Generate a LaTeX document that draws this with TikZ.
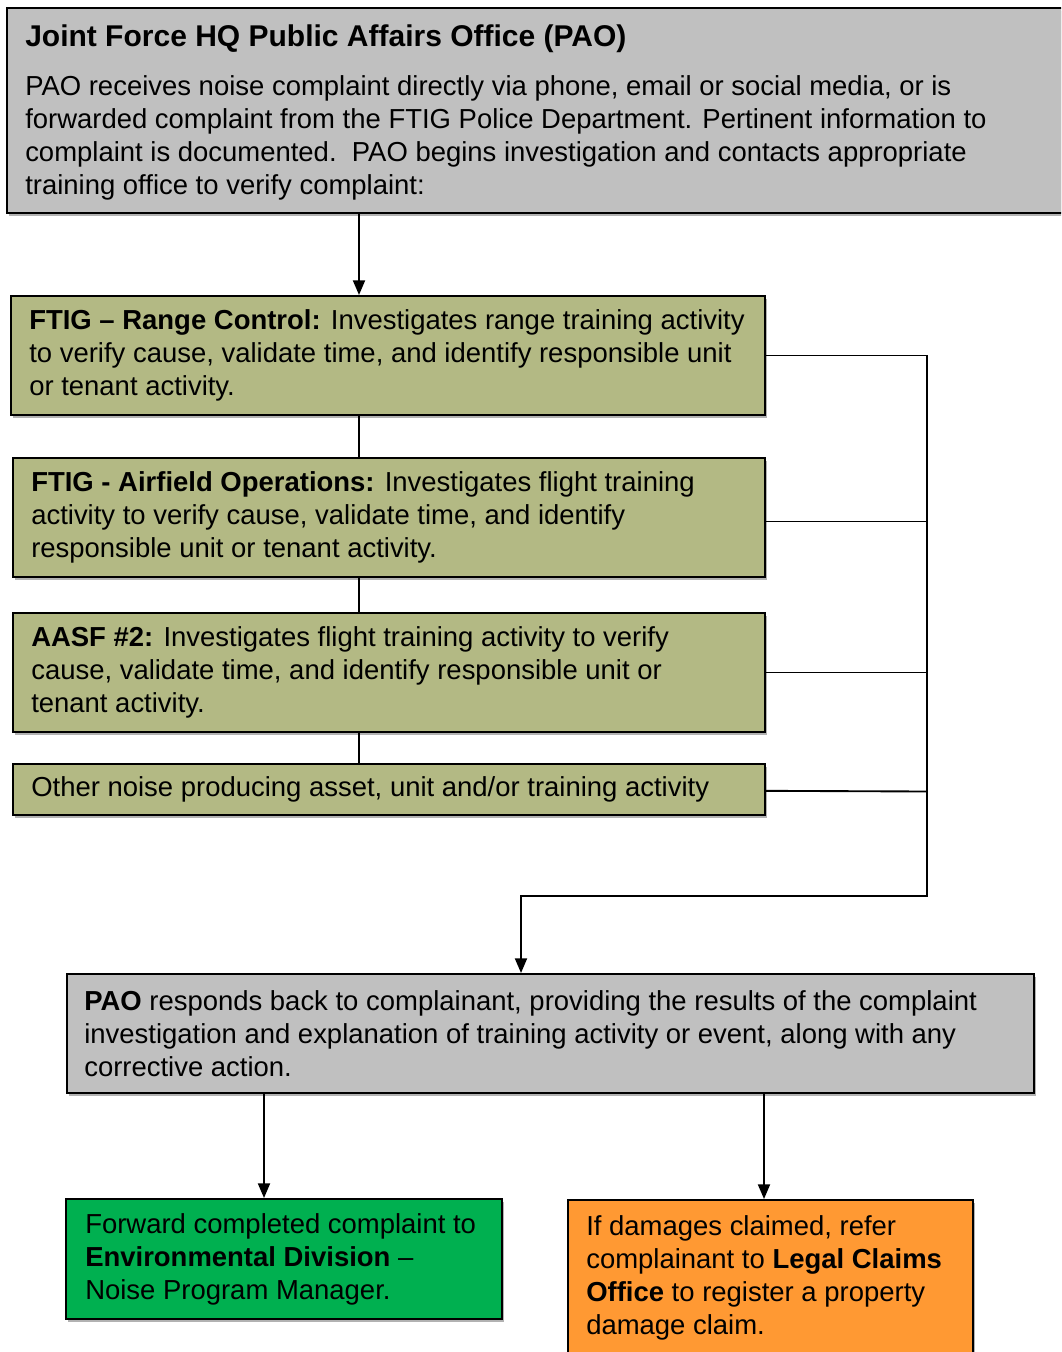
\documentclass[tikz,border=0pt]{standalone}
\usepackage{fontspec}
\setmainfont{Liberation Sans}
\usetikzlibrary{shadows,arrows.meta}
\definecolor{boxgray}{HTML}{C0C0C0}
\definecolor{olive}{HTML}{B3B984}
\definecolor{boxgreen}{HTML}{00B050}
\definecolor{boxorange}{HTML}{FF9933}
\newcommand{\mainsize}{\fontsize{20.6pt}{24.75pt}\selectfont}
\newcommand{\titlesize}{\fontsize{22.5pt}{24.75pt}\selectfont}
\begin{document}
\begin{tikzpicture}[x=0.75pt,y=-0.75pt,
  box/.style={draw=black, line width=1.5pt, rectangle, anchor=north west, inner sep=0pt,
    drop shadow={shadow xshift=1.5pt, shadow yshift=-2.5pt, opacity=0.3, fill=black}},
  lbl/.style={anchor=west, align=left, inner sep=0pt, font=\mainsize},
  conn/.style={draw=black, line width=1.4pt},
  arr/.style={conn, -{Triangle[length=11pt,width=9pt]}}]
\useasboundingbox (0,0) rectangle (1061,1352);
\clip (0,0) rectangle (1061,1352);

% boxes
\node[box, fill=boxgray, minimum width=801.75pt, minimum height=153.75pt] (top) at (6,7) {};
\node[box, fill=olive, minimum width=565.5pt, minimum height=89.25pt] (b1) at (10,295) {};
\node[box, fill=olive, minimum width=564pt, minimum height=89.25pt] (b2) at (12,457) {};
\node[box, fill=olive, minimum width=564pt, minimum height=89.25pt] (b3) at (12,612) {};
\node[box, fill=olive, minimum width=564pt, minimum height=38.25pt] (b4) at (12,763) {};
\node[box, fill=boxgray, minimum width=725.25pt, minimum height=89.25pt] (resp) at (66,973) {};
\node[box, fill=boxgreen, minimum width=327pt, minimum height=90pt] (green) at (65,1198) {};
\node[box, fill=boxorange, minimum width=303.75pt, minimum height=116.25pt] (orange) at (567,1199) {};

% labels
\node[lbl] (ttop) at ([xshift=14.25pt,yshift=-1.5pt]top.west) {{\titlesize\textbf{Joint Force HQ Public Affairs Office (PAO)}}\\[12pt]
PAO receives noise complaint directly via phone, email or social media, or is\\
forwarded complaint from the FTIG Police Department. Pertinent information to\\
complaint is documented.\ \ PAO begins investigation and contacts appropriate\\
training office to verify complaint:};
\node[lbl] (t1) at ([xshift=14.25pt]b1.west) {\textbf{FTIG -- Range Control:} Investigates range training activity\\
to verify cause, validate time, and identify responsible unit\\
or tenant activity.};
\node[lbl] (t2) at ([xshift=14.25pt]b2.west) {\textbf{FTIG - Airfield Operations:} Investigates flight training\\
activity to verify cause, validate time, and identify\\
responsible unit or tenant activity.};
\node[lbl] (t3) at ([xshift=14.25pt]b3.west) {\textbf{AASF \#2:} Investigates flight training activity to verify\\
cause, validate time, and identify responsible unit or\\
tenant activity.};
\node[lbl] (t4) at ([xshift=14.25pt]b4.west) {Other noise producing asset, unit and/or training activity};
\node[lbl] (tresp) at ([xshift=13.5pt]resp.west) {\textbf{PAO} responds back to complainant, providing the results of the complaint\\
investigation and explanation of training activity or event, along with any\\
corrective action.};
\node[lbl] (tgreen) at ([xshift=15pt]green.west) {Forward completed complaint to\\
\textbf{Environmental Division} --\\
Noise Program Manager.};
\node[lbl, anchor=north west] (torange) at ([xshift=14.25pt,yshift=-12.5pt]orange.north west) {If damages claimed, refer\\
complainant to \textbf{Legal Claims}\\
\textbf{Office} to register a property\\
damage claim.};

% connector helper coordinates
\coordinate (spine) at (359,0);
\coordinate (busb) at (927,896);
\coordinate (drop) at (521,896);
\coordinate (lft) at (264,0);
\coordinate (rgt) at (764,0);

% connectors
\draw[arr] (top.south -| spine) -- (b1.north -| spine);
\draw[conn] (b1.south -| spine) -- (b2.north -| spine);
\draw[conn] (b2.south -| spine) -- (b3.north -| spine);
\draw[conn] (b3.south -| spine) -- (b4.north -| spine);
\draw[arr] (b1.east) -| (busb) -- (drop) -- (resp.north -| drop);
\draw[conn] ([yshift=-3pt]b2.east) -- ([yshift=-3pt]b2.east -| busb);
\draw[conn] (b3.east) -- (b3.east -| busb);
\draw[conn] ([yshift=-1pt]b4.east) -- ([yshift=-1.5pt]b4.east -| busb);
\draw[arr] (resp.south -| lft) -- (green.north -| lft);
\draw[arr] (resp.south -| rgt) -- (orange.north -| rgt);
\end{tikzpicture}
\end{document}
